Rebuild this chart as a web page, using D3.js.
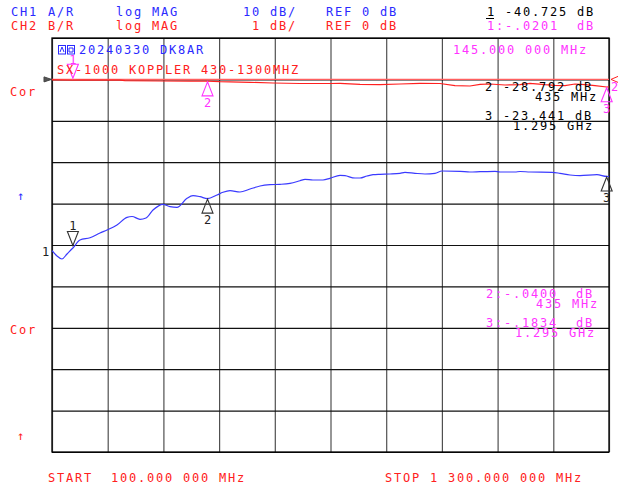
<!DOCTYPE html>
<html><head><meta charset="utf-8">
<script src="https://cdn.jsdelivr.net/npm/d3@7"></script>
<style>
html,body{margin:0;padding:0;background:#fff;}
svg text{font-family:"DejaVu Sans Mono",monospace;font-size:12px;letter-spacing:1.78px;white-space:pre;}
</style></head>
<body><svg id="c" width="618" height="486"></svg>
<script>
// ---- data ----
const xGridTicks = [100,220,340,460,580,700,820,940,1060,1180,1300];
const yGridTicksCh1 = [10,0,-10,-20,-30,-40,-50,-60,-70,-80,-90];

const ch1Freq = [100,110.8,121.5,132.3,145,160.3,181.9,203.4,218.5,240,261.6,272.4,289.6,302.5,317.6,339.1,354.2,369.3,390.8,403.8,418.9,435,455.5,468.4,483.5,505,526.6,548.1,569.7,591.2,612.7,634.3,645.1,662.3,683.8,698.9,720.5,731.2,752.8,763.6,778.6,791.6,806.6,828.2,849.7,860.5,882,903.6,925.1,940.2,979,1000.5,1022.1,1054.4,1065.2,1097.5,1108.3,1129.8,1177.2,1194.4,1216,1237.5,1274.1,1295,1300];
const ch1Db = [-41.38,-42.66,-43.38,-42.17,-40.725,-38.79,-38.24,-37.10,-36.38,-35.17,-33.31,-33.12,-33.79,-33.48,-31.55,-30.17,-30.75,-30.89,-28.72,-28.09,-28.33,-28.792,-27.92,-27.27,-26.88,-27.20,-26.47,-25.75,-25.43,-25.34,-25.10,-24.47,-24.13,-24.30,-24.30,-23.89,-23.16,-23.26,-23.82,-23.82,-23.33,-23.02,-22.92,-22.85,-22.68,-22.44,-22.68,-22.85,-22.68,-22.13,-22.20,-22.37,-22.29,-22.20,-22.37,-22.37,-22.25,-22.37,-22.44,-22.68,-23.09,-23.26,-23.02,-23.441,-23.45];

const ch2Freq = [100,145,160.3,246.5,257.3,332.7,397.3,435,461.9,526.6,576.1,634.3,698.9,720.5,763.6,806.6,849.7,892.8,935.9,968.2,1000.5,1022.1,1043.6,1075.9,1108.3,1129.8,1162.1,1183.7,1205.2,1226.7,1248.3,1269.8,1295,1300];
const ch2Db = [-0.010,-0.0201,-0.014,-0.019,-0.031,-0.039,-0.043,-0.0400,-0.056,-0.070,-0.087,-0.099,-0.099,-0.094,-0.118,-0.128,-0.111,-0.094,-0.099,-0.152,-0.159,-0.118,-0.111,-0.135,-0.128,-0.094,-0.128,-0.143,-0.152,-0.111,-0.128,-0.152,-0.1834,-0.181];

const markerFreq = [145,435,1295];
const markerCh1 = [-40.725,-28.792,-23.441];
const markerCh2 = [-0.0201,-0.0400,-0.1834];
const markerNames = ["1","2","3"];

// ---- setup ----
const svg = d3.select("#c");
const L=52,R=609,T=38,B=452;
const x = d3.scaleLinear().domain([100,1300]).range([L,R]);
const y1 = d3.scaleLinear().domain([-90,10]).range([B,T]);   // CH1 10 dB/div
const y2 = d3.scaleLinear().domain([-9,1]).range([B,T]);     // CH2 1 dB/div

const BLUE="#2a2aff", RED="#ff2020", MAG="#ff33ff", BLK="#000";

// grid via axes
const gx = svg.append("g").attr("transform",`translate(0,${B})`)
  .call(d3.axisBottom(x).tickValues(xGridTicks).tickSize(-(B-T)).tickFormat(""));
gx.select(".domain").remove();
gx.selectAll("line").attr("stroke","#505050").attr("stroke-width",1.2);
const gy = svg.append("g").attr("transform",`translate(${L},0)`)
  .call(d3.axisLeft(y1).tickValues(yGridTicksCh1).tickSize(-(R-L)).tickFormat(""));
gy.select(".domain").remove();
gy.selectAll("line").attr("stroke","#111").attr("stroke-width",1.2);
svg.append("rect").attr("x",L).attr("y",T).attr("width",R-L).attr("height",B-T)
  .attr("fill","none").attr("stroke","#000").attr("stroke-width",1.3);

// CH2 reference line (0 dB)
svg.append("line").attr("x1",L).attr("x2",R).attr("y1",y2(0)).attr("y2",y2(0))
  .attr("stroke","#ff6060").attr("stroke-width",1.2);

// traces
const line1 = d3.line().x((d,i)=>x(ch1Freq[i])).y(d=>y1(d)).curve(d3.curveMonotoneX);
svg.append("path").attr("d",line1(ch1Db)).attr("fill","none").attr("stroke","#3a3aff").attr("stroke-width",1.2);
const line2 = d3.line().x((d,i)=>x(ch2Freq[i])).y(d=>y2(d)).curve(d3.curveLinear);
svg.append("path").attr("d",line2(ch2Db)).attr("fill","none").attr("stroke",RED).attr("stroke-width",1.2);

// markers
function tri(cx, ty, down){
  const h=14, w=5.5;
  if(down){ return `M${cx},${ty} L${cx-w},${ty-h} L${cx+w},${ty-h} Z`; }
  return `M${cx},${ty} L${cx-w},${ty+h} L${cx+w},${ty+h} Z`;
}
function single(t){ return t.style("letter-spacing","0px"); }
markerFreq.forEach((f,i)=>{
  const cx = x(f);
  const down = i===0;
  // CH1
  const t1 = y1(markerCh1[i]);
  const a1 = down ? t1-2.5 : t1+0.5;
  svg.append("path").attr("d",tri(cx,a1,down)).attr("fill","none").attr("stroke","#333").attr("stroke-width",1.1);
  single(svg.append("text").attr("x",cx).attr("y",down? a1-16: a1+25).attr("text-anchor","middle").attr("fill","#222").text(markerNames[i]));
  // CH2
  const t2 = y2(markerCh2[i]);
  const a2 = down ? t2-2 : t2+0.8;
  svg.append("path").attr("d",tri(cx,a2,down)).attr("fill","none").attr("stroke",MAG).attr("stroke-width",1.1);
  single(svg.append("text").attr("x",cx).attr("y",down? a2-14: a2+25).attr("text-anchor","middle").attr("fill",MAG).text(markerNames[i]));
});

// reference pointers
svg.append("path").attr("d",`M44,${y2(0)-2.5} L51.5,${y2(0)} L44,${y2(0)+2.5} Z`).attr("fill","#555").attr("stroke","#444");
svg.append("path").attr("d",`M618,${y2(0)-3} L611,${y2(0)} L618,${y2(0)+3}`).attr("fill","none").attr("stroke",RED);
single(svg.append("text").attr("x",611).attr("y",91).attr("fill",MAG).text("2"));
single(svg.append("text").attr("x",42).attr("y",256).attr("fill","#222").text("1"));

// header text
function T_(xx,yy,col,s){ return svg.append("text").attr("x",xx).attr("y",yy).attr("fill",col).text(s); }
T_(11,16,BLUE,"CH1"); T_(48,16,BLUE,"A/R"); T_(116,16,BLUE,"log MAG"); T_(243,16,BLUE,"10 dB/"); T_(326,16,BLUE,"REF 0 dB");
T_(487,16,BLK,"1 -40.725 dB");
svg.append("line").attr("x1",486).attr("x2",494).attr("y1",18.5).attr("y2",18.5).attr("stroke","#000");
T_(11,30,RED,"CH2"); T_(48,30,RED,"B/R"); T_(116,30,RED,"log MAG"); T_(252,30,RED,"1 dB/"); T_(326,30,RED,"REF 0 dB");
T_(487,30,MAG,"1:-.0201  dB");

// inside plot text
const icon = svg.append("g").attr("stroke",BLUE).attr("fill","none").attr("stroke-width",1);
icon.append("rect").attr("x",58.5).attr("y",45.5).attr("width",7).attr("height",8.5);
icon.append("rect").attr("x",67.5).attr("y",45.5).attr("width",7).attr("height",8.5);
icon.append("path").attr("d","M60,52 L62,47 L64,52 M69,48 L73,48 L73,52 L69,52 Z");
T_(79,54.3,BLUE,"20240330 DK8AR");
T_(57,74.3,RED,"SX-1000 KOPPLER 430-1300MHZ");
T_(453,54.3,MAG,"145.000 000 MHz");
T_(485,91,BLK,"2 -28.792 dB");
T_(535,101,BLK,"435 MHz");
T_(485,120,BLK,"3 -23.441 dB");
T_(513,130,BLK,"1.295 GHz");
T_(486,297.5,MAG,"2:-.0400  dB");
T_(536,307.5,MAG,"435 MHz");
T_(486,327,MAG,"3:-.1834  dB");
T_(515,337,MAG,"1.295 GHz");

// left labels
T_(10,96,RED,"Cor");
single(T_(17,200,BLUE,"↑"));
T_(10,334,RED,"Cor");
single(T_(17,440,RED,"↑"));

// bottom
T_(48,482,RED,"START  100.000 000 MHz");
T_(385,482,RED,"STOP 1 300.000 000 MHz");
</script></body></html>
